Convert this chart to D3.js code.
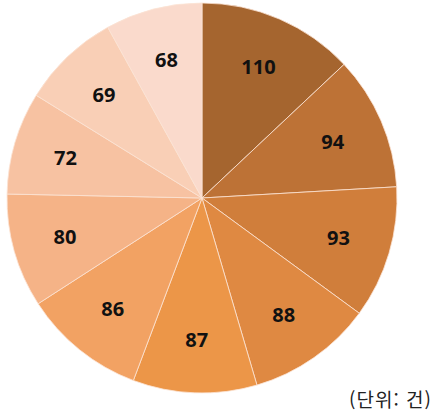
<!DOCTYPE html>
<html lang="ko">
<head>
  <meta charset="UTF-8">
  <title>Pie</title>
  <script src="https://d3js.org/d3.v7.min.js"></script>
  <style>
    html, body { margin: 0; padding: 0; background: #fff; }
    .lbl { font-family: "Open Sans", "Noto Sans CJK KR", sans-serif; font-weight: 700; font-size: 20px; fill: #111; }
    .unit { font-family: "Noto Sans CJK KR", "Open Sans", sans-serif; font-size: 19px; fill: #222; }
  </style>
</head>
<body>
  <script>
    // values, clockwise from 12 o'clock
    const values = [110, 94, 93, 88, 87, 86, 80, 72, 69, 68]
    const colors = ['#a5652f', '#bd7236', '#d07e3b', '#df8942', '#ec9648',
                    '#f2a263', '#f5b387', '#f7c2a2', '#f9cfb6', '#fadacc']
    const unitLabel = '(단위: 건)'

    const width = 434, height = 415
    const cx = 202, cy = 198, r = 195

    const svg = d3.select('body').append('svg')
      .attr('width', width).attr('height', height)

    const g = svg.append('g').attr('transform', `translate(${cx},${cy})`)

    const pie = d3.pie().sort(null).value(d => d)
    const arc = d3.arc().innerRadius(0).outerRadius(r)
    const labelArc = d3.arc().innerRadius(r * 0.73).outerRadius(r * 0.73)

    const arcs = pie(values)

    g.selectAll('path').data(arcs).enter().append('path')
      .attr('d', arc)
      .attr('fill', (d, i) => colors[i])
      .attr('stroke', '#fbe3d4')
      .attr('stroke-width', 0.8)

    g.selectAll('.lbl').data(arcs).enter().append('text')
      .attr('class', 'lbl')
      .attr('transform', d => `translate(${labelArc.centroid(d)})`)
      .attr('text-anchor', 'middle')
      .attr('dy', '0.35em')
      .text(d => d.data)

    svg.append('text').attr('class', 'unit')
      .attr('x', 432).attr('y', 407)
      .attr('text-anchor', 'end')
      .attr('letter-spacing', 1)
      .text(unitLabel)
  </script>
</body>
</html>
